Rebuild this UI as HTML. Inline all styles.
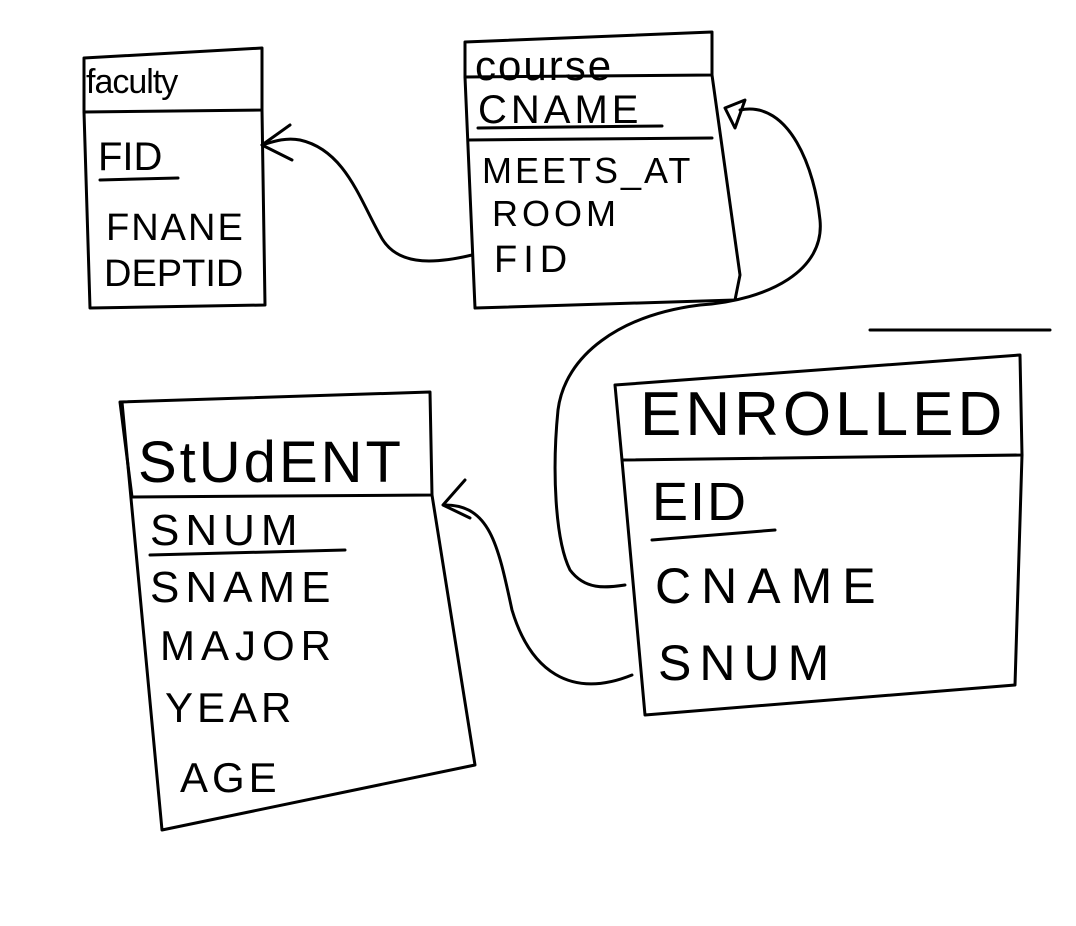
<!DOCTYPE html>
<html><head><meta charset="utf-8"><style>
html,body{margin:0;padding:0;background:#fff;}
svg{display:block}
text{font-family:"Liberation Sans",sans-serif;fill:#000;}
</style></head><body>
<svg width="1076" height="926" viewBox="0 0 1076 926" xmlns="http://www.w3.org/2000/svg">
<g fill="none" stroke="#000" stroke-width="3" stroke-linecap="round" stroke-linejoin="round">
<!-- faculty -->
<path d="M84,58 L262,48 L262,110 L84,112 Z"/>
<path d="M84,112 L90,308 L265,305 L262,110"/>
<path d="M100,180 L178,178"/>
<!-- course -->
<path d="M465,42 L712,32 L712,75 L465,77 Z"/>
<path d="M465,77 L475,308 L735,300 L740,275 L712,75"/>
<path d="M478,128 L662,126"/>
<path d="M468,140 L712,138"/>
<!-- course FID -> faculty FID -->
<path d="M472,255 C430,265 395,265 380,235 C360,200 345,150 300,140 C285,137 272,142 262,145"/>
<path d="M262,145 L290,125 M262,145 L292,160"/>
<!-- course CNAME <- enrolled CNAME -->
<path d="M725,108 L745,100 L735,128 Z"/>
<path d="M740,110 C790,100 815,170 820,220 C825,270 770,300 700,305 C620,315 565,355 558,410 C552,470 555,540 570,570 C585,590 605,588 625,585"/>
<!-- student -->
<path d="M120,402 L430,392 L432,495 L132,497 Z"/>
<path d="M122,402 L162,830 L475,765 L432,495"/>
<path d="M150,555 L345,550"/>
<!-- enrolled -->
<path d="M615,385 L1020,355 L1022,455 L622,460 Z"/>
<path d="M870,330 L1050,330"/>
<path d="M622,460 L645,715 L1015,685 L1022,455"/>
<path d="M652,540 L775,530"/>
<!-- enrolled SNUM -> student -->
<path d="M632,675 C570,700 530,670 512,610 C498,545 490,505 445,505"/>
<path d="M443,505 L465,480 M443,505 L470,518"/>
</g>
<g font-size="40">
<text x="86" y="93" font-size="34" letter-spacing="-1">faculty</text>
<text x="98" y="170" font-size="40">FID</text>
<text x="106" y="240" font-size="38" letter-spacing="2">FNANE</text>
<text x="104" y="286" font-size="38">DEPTID</text>
<text x="475" y="80" font-size="42" letter-spacing="2">course</text>
<text x="478" y="123" font-size="40" letter-spacing="4">CNAME</text>
<text x="482" y="183" font-size="36" letter-spacing="3">MEETS_AT</text>
<text x="492" y="226" font-size="36" letter-spacing="4">ROOM</text>
<text x="494" y="272" font-size="38" letter-spacing="6">FID</text>
<text x="138" y="482" font-size="58" letter-spacing="3">StUdENT</text>
<text x="150" y="545" font-size="44" letter-spacing="6">SNUM</text>
<text x="150" y="602" font-size="44" letter-spacing="6">SNAME</text>
<text x="160" y="660" font-size="42" letter-spacing="6">MAJOR</text>
<text x="165" y="722" font-size="42" letter-spacing="4">YEAR</text>
<text x="180" y="792" font-size="42" letter-spacing="4">AGE</text>
<text x="640" y="435" font-size="62" letter-spacing="4">ENROLLED</text>
<text x="652" y="520" font-size="54" letter-spacing="2">EID</text>
<text x="655" y="603" font-size="50" letter-spacing="10">CNAME</text>
<text x="658" y="680" font-size="50" letter-spacing="8">SNUM</text>
</g>
</svg>
</body></html>
